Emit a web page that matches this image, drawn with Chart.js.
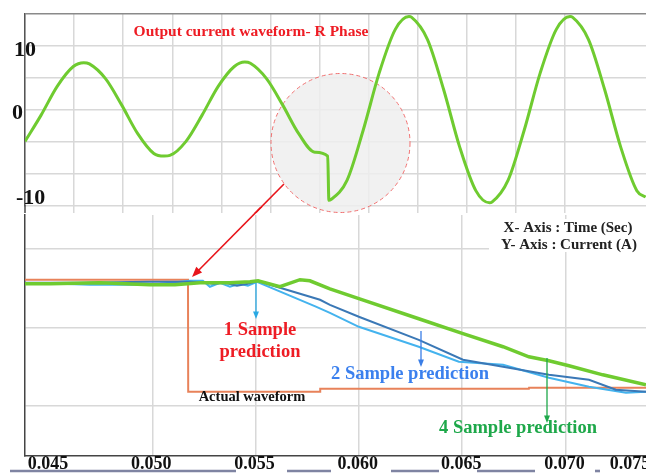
<!DOCTYPE html>
<html>
<head>
<meta charset="utf-8">
<script src="https://cdn.jsdelivr.net/npm/chart.js@4"></script>
<style>
    body { margin: 0; background: #fff; }
    #wrap { position: relative; width: 646px; height: 473px; overflow: hidden; }
    .box { position: absolute; left: 0; width: 646px; }
</style>
</head>
<body>
<div id="wrap">
    <div class="box" style="top:0;height:213px"><canvas id="waveChart"></canvas></div>
    <div class="box" style="top:207px;height:266px"><canvas id="zoomChart"></canvas></div>
</div>
<script>
// top plot: R phase current, time in ms
const waveTime = [0, 2, 4, 6, 7.3, 8, 10, 12, 14, 16, 17.3, 18, 20, 22, 24, 26, 27.3, 28, 30, 32, 34, 36, 37.6,
    37.75, 38, 40, 42, 44, 46, 47.7, 48, 50, 52, 54, 56, 57.7, 58, 60, 62, 64, 66, 67.7, 68, 70, 72, 74, 76, 77.1]
const waveCurrent = [-4.9, -0.8, 3.7, 6.8, 7.4, 7.2, 4.9, 0.8, -3.7, -6.8, -7.2, -7.1, -4.9, -0.8, 3.7, 6.8, 7.5, 7.3, 4.9, 0.8, -3.7, -6.6, -7.2,
    -14.1, -14.0, -11.0, -3.2, 5.8, 12.6, 14.6, 14.5, 11.0, 3.2, -5.8, -12.6, -14.5, -14.4, -11.0, -3.2, 5.8, 12.6, 14.6, 14.5, 11.0, 3.2, -5.8, -12.6, -13.6]
const waveTickLabels = ["10", "0", "-10"]

// zoomed plot: time (s) vs current (A)
const actualTime = [0.04384, 0.05173, 0.05174, 0.05812, 0.05813, 0.06823, 0.06824, 0.0739]
const actualCurrent = [-6.97, -6.97, -14.11, -14.11, -13.92, -13.92, -13.85, -13.85]

const oneSampleTime = [0.04384, 0.04553, 0.04698, 0.04907, 0.05037, 0.05182, 0.05245, 0.05279, 0.05328, 0.05376, 0.05424, 0.05463,
    0.05507, 0.05792, 0.0586, 0.0600, 0.0629, 0.06484, 0.06698, 0.0692, 0.07114, 0.07293, 0.0739]
const oneSampleCurrent = [-7.23, -7.23, -7.29, -7.29, -7.23, -7.04, -7.04, -7.42, -7.17, -7.42, -7.23, -7.36,
    -7.10, -8.69, -9.08, -9.97, -11.24, -12.20, -12.39, -13.22, -13.79, -14.17, -14.11]

const twoSampleTime = [0.04384, 0.0465, 0.04989, 0.05182, 0.05255, 0.05294, 0.05352, 0.0541, 0.05463, 0.05512, 0.0557,
    0.05812, 0.0586, 0.0600, 0.0629, 0.06504, 0.06698, 0.0692, 0.07114, 0.07244, 0.0739]
const twoSampleCurrent = [-7.17, -7.17, -7.10, -7.10, -7.17, -7.23, -7.17, -7.36, -7.23, -7.04, -7.29,
    -8.25, -8.57, -9.33, -10.80, -12.07, -12.52, -13.03, -13.34, -13.98, -14.11]

const fourSampleTime = [0.04384, 0.04505, 0.04747, 0.04989, 0.0511, 0.05231, 0.05376, 0.05473, 0.05512, 0.05618, 0.05715, 0.05763,
    0.0586, 0.0600, 0.0629, 0.06504, 0.06698, 0.06823, 0.0692, 0.07017, 0.07181, 0.0739]
const fourSampleCurrent = [-7.23, -7.23, -7.17, -7.29, -7.29, -7.17, -7.17, -7.10, -7.04, -7.42, -6.97, -7.04,
    -7.55, -8.18, -9.46, -10.41, -11.24, -11.88, -12.13, -12.45, -13.03, -13.66]

const zoomTickValues = [0.045, 0.050, 0.055, 0.060, 0.065, 0.070, 0.075]
const zoomTickLabels = ["0.045", "0.050", "0.055", "0.060", "0.065", "0.070", "0.075"]

const SERIF = '"Liberation Serif", "DejaVu Serif", serif'
const GRID = "#d8d8d8"
const NONE = "rgba(0,0,0,0)"
Chart.defaults.font.family = SERIF

function pts(xs, ys) {
    return xs.map((x, i) => ({ x: x, y: ys[i] }))
}

function text(c, str, x, y, size, color, align) {
    c.font = "bold " + size + "px " + SERIF
    c.fillStyle = color
    c.textAlign = align || "center"
    c.textBaseline = "middle"
    c.fillText(str, x, y)
}

function arrow(c, x1, y1, x2, y2, color, width, head) {
    const a = Math.atan2(y2 - y1, x2 - x1)
    c.strokeStyle = color
    c.fillStyle = color
    c.lineWidth = width
    c.beginPath()
    c.moveTo(x1, y1)
    c.lineTo(x2 - head * 0.8 * Math.cos(a), y2 - head * 0.8 * Math.sin(a))
    c.stroke()
    c.beginPath()
    c.moveTo(x2, y2)
    c.lineTo(x2 - head * Math.cos(a - 0.38), y2 - head * Math.sin(a - 0.38))
    c.lineTo(x2 - head * Math.cos(a + 0.38), y2 - head * Math.sin(a + 0.38))
    c.closePath()
    c.fill()
}

// draws in page coordinates on a canvas placed at offsetY
function overlay(offsetY, before, after) {
    const run = (chart, fn) => {
        if (!fn) return
        const c = chart.ctx
        c.save()
        c.translate(0, -offsetY)
        fn(c, chart)
        c.restore()
    }
    return {
        id: "overlay",
        beforeDatasetsDraw: chart => run(chart, before),
        afterDraw: chart => run(chart, after)
    }
}

function redArrow(c) {
    arrow(c, 284, 184, 192, 277, "#e8151b", 1.6, 11)
}

const isStep = (v, s) => Math.abs(v / s - Math.round(v / s)) < 1e-6

new Chart(document.getElementById("waveChart"), {
    type: "line",
    data: {
        datasets: [{
            data: pts(waveTime, waveCurrent),
            borderColor: "#6fcb30",
            borderWidth: 3,
            pointRadius: 0,
            cubicInterpolationMode: "monotone"
        }]
    },
    options: {
        responsive: true,
        maintainAspectRatio: false,
        animation: false,
        layout: { padding: { left: 25, top: 14, right: 0, bottom: 0 } },
        plugins: { legend: { display: false }, tooltip: { enabled: false } },
        scales: {
            x: {
                type: "linear", min: 0, max: 77.14,
                ticks: { display: false, stepSize: 6.1 },
                grid: {
                    color: ctx => isStep(ctx.tick.value, 6.1) ? GRID : NONE,
                    lineWidth: 1.5, drawTicks: true, tickLength: 7,
                    tickColor: ctx => isStep(ctx.tick.value, 6.1) ? GRID : NONE
                },
                border: { display: false }
            },
            y: {
                min: -15, max: 15,
                ticks: { display: false, stepSize: 5 },
                grid: { color: ctx => ctx.tick.value === 15 ? "#8a8a8a" : GRID, lineWidth: 1.5, drawTicks: false },
                border: { color: "#555", width: 1.5 }
            }
        }
    },
    plugins: [overlay(0, c => {
        c.beginPath()
        c.arc(340.5, 143, 69.5, 0, Math.PI * 2)
        c.fillStyle = "rgba(238,238,238,0.85)"
        c.fill()
        c.setLineDash([4, 3])
        c.strokeStyle = "#f07070"
        c.lineWidth = 1
        c.stroke()
        c.setLineDash([])
    }, c => {
        c.strokeStyle = "#555"
        c.lineWidth = 1.5
        c.beginPath()
        c.moveTo(25, 205)
        c.lineTo(25, 214)
        c.stroke()
        text(c, "Output current waveform- R Phase", 251, 32, 15.5, "#ee1c24")
        text(c, waveTickLabels[0], 14, 50, 22, "#111", "left")
        text(c, waveTickLabels[1], 12, 113, 22, "#111", "left")
        text(c, waveTickLabels[2], 16, 198, 22, "#111", "left")
        redArrow(c)
    })]
})

new Chart(document.getElementById("zoomChart"), {
    type: "line",
    data: {
        datasets: [
            { label: "4 Sample prediction", data: pts(fourSampleTime, fourSampleCurrent), borderColor: "#6fcb30", borderWidth: 3.5 },
            { label: "2 Sample prediction", data: pts(twoSampleTime, twoSampleCurrent), borderColor: "#3a78b6", borderWidth: 2 },
            { label: "1 Sample prediction", data: pts(oneSampleTime, oneSampleCurrent), borderColor: "#44b3ee", borderWidth: 2 },
            { label: "Actual waveform", data: pts(actualTime, actualCurrent), borderColor: "#e8825a", borderWidth: 2 }
        ].map(d => Object.assign(d, { pointRadius: 0, tension: 0 }))
    },
    options: {
        responsive: true,
        maintainAspectRatio: false,
        animation: false,
        layout: { padding: { left: 25, top: 8, right: 0, bottom: 17 } },
        plugins: { legend: { display: false }, tooltip: { enabled: false } },
        scales: {
            x: {
                type: "linear", min: 0.04384, max: 0.0739,
                ticks: { display: false, stepSize: 0.005 },
                grid: {
                    color: ctx => isStep(ctx.tick.value, 0.005) ? GRID : NONE,
                    lineWidth: 1.5, drawTicks: false
                },
                border: { color: "#444", width: 1.5 }
            },
            y: {
                min: -18.2, max: -2.85,
                ticks: { display: false, stepSize: 5 },
                grid: {
                    color: ctx => isStep(ctx.tick.value, 5) ? GRID : NONE,
                    lineWidth: 1.5, drawTicks: false
                },
                border: { color: "#444", width: 1.5 }
            }
        }
    },
    plugins: [overlay(207, c => {
        c.fillStyle = "#fff"
        c.fillRect(489, 219, 157, 33)
    }, (c, chart) => {
        redArrow(c)
        text(c, "X- Axis : Time (Sec)", 568, 228, 15, "#222")
        text(c, "Y- Axis : Current (A)", 569, 245, 15, "#222")

        arrow(c, 256, 283, 256, 319, "#29a9e4", 1.3, 8)
        text(c, "1 Sample", 260, 330, 18.5, "#ee1c24")
        text(c, "prediction", 260, 352, 18.5, "#ee1c24")

        arrow(c, 421, 331, 421, 367, "#3a7ee6", 1.3, 8)
        text(c, "2 Sample prediction", 410, 374, 18.5, "#3b80ee")

        arrow(c, 547, 358, 547, 423, "#1ea84a", 1.3, 8)
        text(c, "4 Sample prediction", 518, 428, 18.5, "#1ea84a")

        text(c, "Actual waveform", 252, 397, 14.5, "#111")

        // strip under the time labels
        c.strokeStyle = "#7f84a2"
        c.lineWidth = 2.6
        ;[[10, 236], [287, 331], [391, 439], [477, 535], [595, 600]].forEach(s => {
            c.beginPath()
            c.moveTo(s[0], 471)
            c.lineTo(s[1], 471)
            c.stroke()
        })

        const xs = chart.scales.x
        zoomTickValues.forEach((v, i) => {
            const px = Math.min(xs.getPixelForValue(v), 631)
            text(c, zoomTickLabels[i], px - 1, 464, 18, "#111")
        })
    })]
})
</script>
</body>
</html>
